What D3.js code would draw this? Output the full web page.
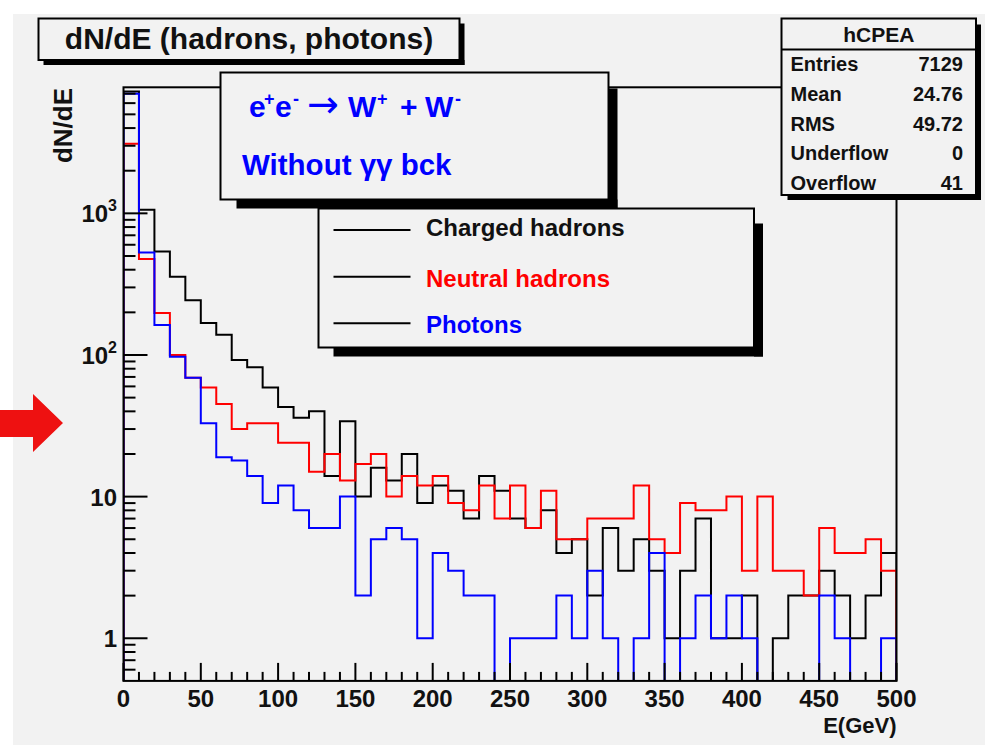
<!DOCTYPE html>
<html>
<head>
<meta charset="utf-8">
<script src="https://cdn.jsdelivr.net/npm/d3@7/dist/d3.min.js"></script>
<style>
  html, body { margin: 0; padding: 0; background: #ffffff; }
  svg { display: block; font-family: "Liberation Sans", Arial, Helvetica, sans-serif; }
</style>
</head>
<body>
<svg id="chart" width="992" height="749"></svg>
<script>
// Energy bins: 10 GeV wide, lower edges from 0 to 490 GeV
const binLow = [0,10,20,30,40,50,60,70,80,90,100,110,120,130,140,150,160,170,180,190,
  200,210,220,230,240,250,260,270,280,290,300,310,320,330,340,350,360,370,380,390,
  400,410,420,430,440,450,460,470,480,490];
const binWidth = 10;

// dN/dE per bin
const chargedHadrons = [7250,1060,537,356,243,168,139,92,82,59,43,36,40,14,34,10,16,13,20,9,
  12,11,7,14,11,7,6,8,4,5,2,6,3,5,3,1,3,7,1,1,
  2,0,1,2,2,3,2,1,2,4];
const neutralHadrons = [3100,477,198,100,69,59,45,30,33,33,24,24,15,20,13,17,20,10,14,12,
  14,9,8,12,7,12,6,11,5,5,7,7,7,12,5,4,9,8,8,10,
  3,10,3,3,2,6,4,4,5,3];
const photons = [7000,530,163,97,69,33,19,18,14,9,12,8,6,6,10,2,5,6,5,1,
  4,3,2,2,0,1,1,1,2,1,3,1,0,1,4,0,1,2,1,2,
  1,0,0,0,0,2,1,0,0,1];

const seriesNames = ["Charged hadrons", "Neutral hadrons", "Photons"];
const seriesColors = ["#000000", "#ff0000", "#0000ff"];

// Axis ticks and labels
const xMajorTicks = [0,50,100,150,200,250,300,350,400,450,500];
const xTickLabels = ["0","50","100","150","200","250","300","350","400","450","500"];
const yMajorTicks = [1,10,100,1000];
const yTickBase = ["1","10","10","10"];
const yTickExp = ["","","2","3"];

// Statistics box
const statsTitle = "hCPEA";
const statsLabels = ["Entries","Mean","RMS","Underflow","Overflow"];
const statsValues = ["7129","24.76","49.72","0","41"];

const svg = d3.select("#chart");

// Canvas
svg.append("rect").attr("x", 13).attr("y", 14).attr("width", 972).attr("height", 731)
  .attr("fill", "#f2f2f2");

// Frame geometry
const fx0 = 123.5, fx1 = 896.5, fy0 = 87.3, fy1 = 680.9;
const x = d3.scaleLinear().domain([0, 500]).range([fx0, fx1]);
const y = d3.scaleLog().domain([0.5, 7760]).range([fy1, fy0]);
const yPos = v => v > 0 ? y(v) : fy1;

svg.append("defs").append("clipPath").attr("id", "frameClip")
  .append("rect").attr("x", fx0).attr("y", fy0).attr("width", fx1 - fx0).attr("height", fy1 - fy0);

// Histogram outlines
function stepPoints(values) {
  const pts = [[x(binLow[0]), fy1]];
  values.forEach((v, i) => {
    pts.push([x(binLow[i]), yPos(v)]);
    pts.push([x(binLow[i] + binWidth), yPos(v)]);
  });
  pts.push([x(binLow[binLow.length - 1] + binWidth), fy1]);
  return pts;
}
const line = d3.line();
const histG = svg.append("g").attr("clip-path", "url(#frameClip)");
[chargedHadrons, neutralHadrons, photons].forEach((vals, k) => {
  histG.append("path").attr("d", line(stepPoints(vals)))
    .attr("fill", "none").attr("stroke", seriesColors[k]).attr("stroke-width", 2)
    .attr("stroke-linejoin", "miter");
});

// Frame
svg.append("rect").attr("x", fx0).attr("y", fy0).attr("width", fx1 - fx0).attr("height", fy1 - fy0)
  .attr("fill", "none").attr("stroke", "#000").attr("stroke-width", 2);

// X axis ticks (inward) and labels
const xMinor = d3.range(0, 501, 10);
svg.append("g").selectAll("line").data(xMinor).join("line")
  .attr("x1", d => x(d)).attr("x2", d => x(d))
  .attr("y1", fy1).attr("y2", d => fy1 - (d % 50 === 0 ? 18 : 9))
  .attr("stroke", "#000").attr("stroke-width", 2);
svg.append("g").selectAll("text").data(xMajorTicks).join("text")
  .attr("x", d => x(d)).attr("y", 707)
  .attr("text-anchor", "middle").attr("font-size", 24).attr("font-weight", "bold")
  .attr("fill", "#111")
  .text((d, i) => xTickLabels[i]);

// Y axis ticks (inward, log)
const yMinor = [];
[0.1, 1, 10, 100, 1000].forEach(dec => {
  for (let m = 2; m <= 9; m++) {
    const v = dec * m;
    if (v > 0.5 && v < 7760) yMinor.push(v);
  }
});
svg.append("g").selectAll("line").data(yMinor).join("line")
  .attr("x1", fx0).attr("x2", fx0 + 12)
  .attr("y1", d => y(d)).attr("y2", d => y(d))
  .attr("stroke", "#000").attr("stroke-width", 2);
svg.append("g").selectAll("line").data(yMajorTicks).join("line")
  .attr("x1", fx0).attr("x2", fx0 + 24)
  .attr("y1", d => y(d)).attr("y2", d => y(d))
  .attr("stroke", "#000").attr("stroke-width", 2);
const yLab = svg.append("g").selectAll("text").data(yMajorTicks).join("text")
  .attr("x", 117).attr("y", d => y(d) + 9)
  .attr("text-anchor", "end").attr("font-size", 24).attr("font-weight", "bold")
  .attr("fill", "#111");
yLab.each(function(d, i) {
  const t = d3.select(this);
  t.append("tspan").text(yTickBase[i]);
  if (yTickExp[i]) {
    t.append("tspan").attr("dy", -11).attr("font-size", 16).text(yTickExp[i]);
  }
});

// Axis titles
svg.append("text").attr("x", fx1).attr("y", 733)
  .attr("text-anchor", "end").attr("font-size", 22).attr("font-weight", "bold").attr("fill", "#111")
  .text("E(GeV)");
svg.append("text").attr("transform", "translate(72,88) rotate(-90)")
  .attr("text-anchor", "end").attr("font-size", 26).attr("font-weight", "bold").attr("fill", "#111")
  .text("dN/dE");

// Box with drop shadow
function pave(x0, y0, w, h, thick, inset) {
  const g = svg.append("g");
  g.append("rect").attr("x", x0 + w).attr("y", y0 + inset).attr("width", thick).attr("height", h - inset + thick)
    .attr("fill", "#000");
  g.append("rect").attr("x", x0 + inset).attr("y", y0 + h).attr("width", w - inset + thick).attr("height", thick)
    .attr("fill", "#000");
  g.append("rect").attr("x", x0).attr("y", y0).attr("width", w).attr("height", h)
    .attr("fill", "#f2f2f2").attr("stroke", "#000").attr("stroke-width", 2);
  return g;
}

// Title
const titleG = pave(38.5, 18.5, 421, 41.5, 5, 5);
titleG.append("text").attr("x", 249).attr("y", 48.5).attr("text-anchor", "middle")
  .attr("font-size", 30).attr("font-weight", "bold").attr("fill", "#111")
  .text("dN/dE (hadrons, photons)");

// Process label: e+ e- -> W+ + W-
const procG = pave(220.5, 72.5, 388, 127, 9, 16);
const procBase = 117, supBase = 105;
const procParts = [
  {t: "e", x: 249, sup: false},
  {t: "+", x: 264, sup: true},
  {t: "e", x: 275, sup: false},
  {t: "-", x: 293, sup: true},
  {t: "\u2192", x: 307, arrow: true},
  {t: "W", x: 348, sup: false},
  {t: "+", x: 377, sup: true},
  {t: "+", x: 400, sup: false},
  {t: "W", x: 425, sup: false},
  {t: "-", x: 455, sup: true}
];
const procText = procG.append("text").attr("font-weight", "bold").attr("fill", "#0000ff");
procParts.forEach(p => {
  const ts = procText.append("tspan").attr("x", p.x).attr("y", p.sup ? supBase : procBase).text(p.t);
  if (p.arrow) ts.attr("font-family", "DejaVu Sans").attr("font-weight", "normal").attr("font-size", 38);
  else ts.attr("font-size", p.sup ? 18 : 30);
});
procG.append("text").attr("x", 242).attr("y", 175)
  .attr("font-size", 29.5).attr("font-weight", "bold").attr("fill", "#0000ff")
  .text("Without \u03b3\u03b3 bck");

// Legend
const legG = pave(318.5, 208.5, 435.5, 139, 9, 15);
const legLineY = [230, 276.7, 323.3];
const legTextY = [235.5, 286.5, 333];
seriesNames.forEach((name, i) => {
  legG.append("line").attr("x1", 333.5).attr("x2", 410.5)
    .attr("y1", legLineY[i]).attr("y2", legLineY[i])
    .attr("stroke", "#000").attr("stroke-width", 2);
  legG.append("text").attr("x", 426).attr("y", legTextY[i])
    .attr("font-size", 24).attr("font-weight", "bold")
    .attr("fill", i === 0 ? "#111" : seriesColors[i])
    .text(name);
});

// Statistics box
const statsG = pave(781.5, 18.5, 194.5, 176.5, 5, 6);
statsG.append("line").attr("x1", 781.5).attr("x2", 976).attr("y1", 49.5).attr("y2", 49.5)
  .attr("stroke", "#000").attr("stroke-width", 2);
statsG.append("text").attr("x", 878.8).attr("y", 42).attr("text-anchor", "middle")
  .attr("font-size", 21).attr("font-weight", "bold").attr("fill", "#111").text(statsTitle);
statsLabels.forEach((lab, i) => {
  const by = 71 + i * 29.8;
  statsG.append("text").attr("x", 790.5).attr("y", by)
    .attr("font-size", 20).attr("font-weight", "bold").attr("fill", "#111").text(lab);
  statsG.append("text").attr("x", 963).attr("y", by).attr("text-anchor", "end")
    .attr("font-size", 20).attr("font-weight", "bold").attr("fill", "#111").text(statsValues[i]);
});

// Pointer arrow at the left margin
svg.append("polygon")
  .attr("points", [[0,410],[33,410],[33,394],[63,423],[33,452],[33,437],[0,437]].map(p => p.join(",")).join(" "))
  .attr("fill", "#ee1111");
</script>
</body>
</html>
